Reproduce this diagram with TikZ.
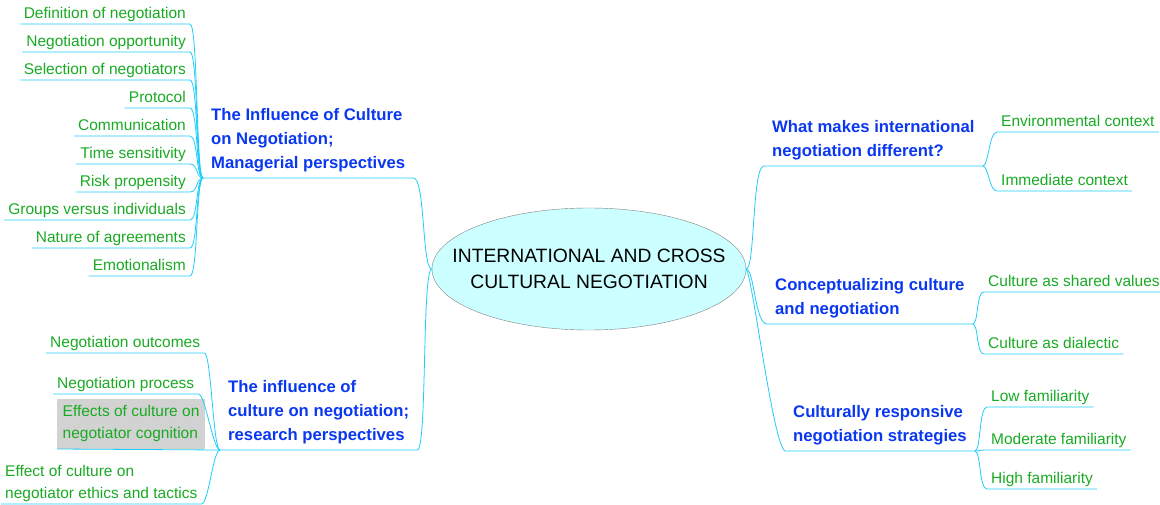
\documentclass[tikz,border=0pt]{standalone}
\usepackage{fontspec}
\setmainfont{Liberation Sans}
\usepackage{xcolor}
\usetikzlibrary{shapes.geometric,positioning}

\definecolor{mapline}{RGB}{30,205,250}
\definecolor{mapblue}{RGB}{10,55,240}
\definecolor{mapgreen}{RGB}{25,170,35}
\definecolor{mapcore}{RGB}{204,255,255}
\definecolor{mapgray}{RGB}{210,210,210}

\begin{document}
\begin{tikzpicture}[
    x=1pt, y=-1pt,
    core/.style={ellipse, draw=gray, fill=mapcore, minimum width=314pt, minimum height=122pt, inner xsep=-40pt, inner ysep=0pt, align=center, font=\fontsize{19.3}{26}\selectfont},
    topic/.style={inner xsep=8pt, inner ysep=5.5pt, text depth=3.5pt, align=left, text=mapblue, font=\fontsize{16.7}{24}\bfseries\selectfont},
    leaf/.style={inner xsep=4pt, inner ysep=2pt, text depth=3pt, align=left, text=mapgreen, font=\fontsize{15.5}{22}\selectfont},
    conn/.style={draw=mapline, line width=0.8pt}
  ]
    \useasboundingbox (0,0) rectangle (1160,505);

    % centre
    \node[core] (ctr) at (589,269) {INTERNATIONAL AND CROSS\\CULTURAL NEGOTIATION};

    % main topics
    \node[topic, anchor=south west] (mgr) at (203,178) {The Influence of Culture\\on Negotiation;\\Managerial perspectives};
    \node[topic, anchor=south west] (res) at (220,450) {The influence of\\culture on negotiation;\\research perspectives};
    \node[topic, anchor=south west] (diff) at (764,166) {What makes international\\negotiation different?};
    \node[topic, anchor=south west] (conc) at (767,324) {Conceptualizing culture\\and negotiation};
    \node[topic, anchor=south west] (strat) at (785,451) {Culturally responsive\\negotiation strategies};

    % managerial leaves
    \node[leaf, anchor=south east] (m1) at (190,24) {Definition of negotiation};
    \node[leaf, anchor=south east] (m2) at (190,52) {Negotiation opportunity};
    \node[leaf, anchor=south east] (m3) at (190,80) {Selection of negotiators};
    \node[leaf, anchor=south east] (m4) at (190,108) {Protocol};
    \node[leaf, anchor=south east] (m5) at (190,136) {Communication};
    \node[leaf, anchor=south east] (m6) at (190,164) {Time sensitivity};
    \node[leaf, anchor=south east] (m7) at (190,192) {Risk propensity};
    \node[leaf, anchor=south east] (m8) at (190,220) {Groups versus individuals};
    \node[leaf, anchor=south east] (m9) at (190,248) {Nature of agreements};
    \node[leaf, anchor=south east] (m10) at (190,276) {Emotionalism};

    % research leaves
    \node[leaf, anchor=south west] (r1) at (46,353) {Negotiation outcomes};
    \node[leaf, anchor=south west] (r2) at (53,394) {Negotiation process};
    \node[leaf, anchor=south west, fill=mapgray, inner xsep=5.5pt, inner ysep=7pt] (r3) at (57,449) {Effects of culture on\\negotiator cognition};
    \node[leaf, anchor=south west] (r4) at (1,504) {Effect of culture on\\negotiator ethics and tactics};

    % right leaves
    \node[leaf, anchor=south west] (d1) at (997,132) {Environmental context};
    \node[leaf, anchor=south west] (d2) at (997,191) {Immediate context};
    \node[leaf, anchor=south west] (c1) at (984,292) {Culture as shared values};
    \node[leaf, anchor=south west] (c2) at (984,354) {Culture as dialectic};
    \node[leaf, anchor=south west] (s1) at (987,407) {Low familiarity};
    \node[leaf, anchor=south west] (s2) at (987,450) {Moderate familiarity};
    \node[leaf, anchor=south west] (s3) at (987,489) {High familiarity};

    % centre to topics
    \draw[conn] (ctr.west) .. controls +(-10,0) and +(12,0) .. (mgr.south east) -- (mgr.south west);
    \draw[conn] (ctr.west) .. controls +(-10,0) and +(10,0) .. (res.south east) -- (res.south west);
    \draw[conn] (ctr.east) .. controls +(9,0) and +(-12,0) .. (diff.south west) -- (diff.south east);
    \draw[conn] (ctr.east) .. controls +(8,0) and +(-12,0) .. (conc.south west) -- (conc.south east);
    \draw[conn] (ctr.east) .. controls +(6,6) and +(-12,-6) .. (strat.south west) -- (strat.south east);

    % topic to leaves
    \foreach \m in {m1,m2,m3,m4,m5,m6,m7,m8,m9,m10}
      \draw[conn] (\m.south west) -- (\m.south east) .. controls +(8,0) and +(-7,0) .. (mgr.south west);
    \draw[conn] (r1.south west) -- (r1.south east) .. controls +(7,0) and +(-7,0) .. (res.south west);
    \draw[conn] (r2.south west) -- (r2.south east) .. controls +(7,0) and +(-7,0) .. (res.south west);
    \draw[conn] (r3.south west) -- (res.south west);
    \draw[conn] (r4.south west) -- (r4.south east) .. controls +(7,0) and +(-7,0) .. (res.south west);
    \foreach \m in {d1,d2}
      \draw[conn] (diff.south east) .. controls +(6,0) and +(-8,0) .. (\m.south west) -- (\m.south east);
    \foreach \m in {c1,c2}
      \draw[conn] (conc.south east) .. controls +(6,0) and +(-8,0) .. (\m.south west) -- (\m.south east);
    \foreach \m in {s1,s2,s3}
      \draw[conn] (strat.south east) .. controls +(6,0) and +(-8,0) .. (\m.south west) -- (\m.south east);
  \end{tikzpicture}
\end{document}
